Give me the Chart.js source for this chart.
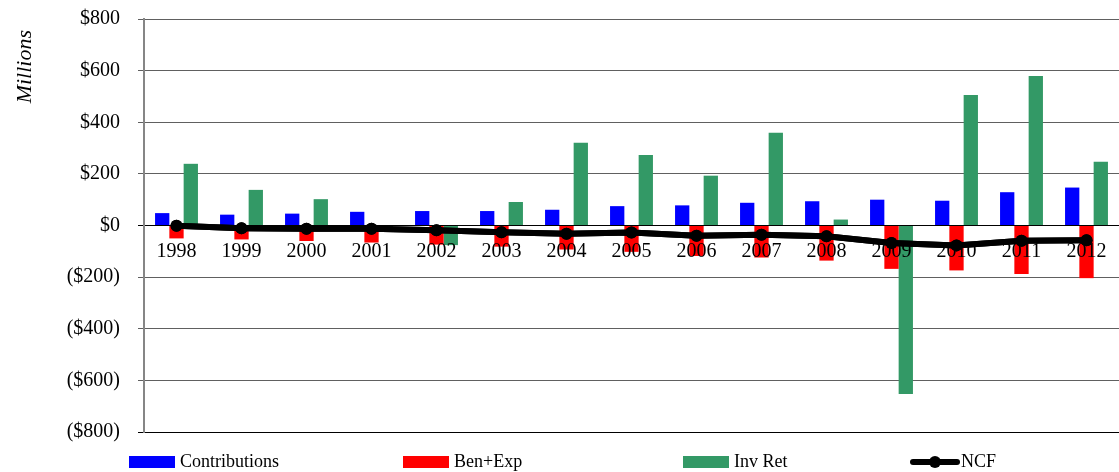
<!DOCTYPE html>
<html>
<head>
<meta charset="utf-8">
<script src="https://cdn.jsdelivr.net/npm/chart.js@4"></script>
<style>
  html, body { margin: 0; padding: 0; background: #ffffff; }
  #wrap { position: relative; width: 1119px; height: 472px; }
</style>
</head>
<body>
<div id="wrap"><canvas id="cash-flow-chart"></canvas></div>
<script>
// Chart data (in $ millions)
const years = ['1998', '1999', '2000', '2001', '2002', '2003', '2004', '2005',
               '2006', '2007', '2008', '2009', '2010', '2011', '2012'];
const contributions = [48, 42, 46, 53, 56, 56, 61, 75, 78, 88, 94, 100, 96, 129, 147];
const benExp = [-50, -54, -60, -66, -74, -82, -93, -102, -118, -124, -136, -168, -174, -188, -204];
const invRet = [239, 138, 102, -15, -76, 91, 321, 273, 193, 359, 23, -653, 506, 579, 247];
const ncf = [-1, -11, -13, -13, -18, -26, -32, -27, -40, -36, -42, -68, -77, -59, -57];
const yTicks = [-800, -600, -400, -200, 0, 200, 400, 600, 800];

const serif = "'Liberation Serif', 'DejaVu Serif', serif";

// Excel-style legend spread across the bottom
const legendPlugin = {
    id: 'bottomLegend',
    afterDraw(chart) {
        // NCF line goes over the year labels, like the original
        chart.data.datasets.forEach((ds, i) => {
            if (ds.type === 'line') chart.getDatasetMeta(i).controller.draw();
        });

        const ctx = chart.ctx;
        const slots = [129, 403, 683, 910];
        const y = 462;
        ctx.save();
        ctx.font = '18px ' + serif;
        ctx.textBaseline = 'middle';
        chart.data.datasets.forEach((ds, i) => {
            const x = slots[i];
            if (ds.type === 'line') {
                ctx.strokeStyle = ds.borderColor;
                ctx.lineWidth = 6;
                ctx.lineCap = 'round';
                ctx.beginPath();
                ctx.moveTo(x + 3, y);
                ctx.lineTo(x + 47, y);
                ctx.stroke();
                ctx.beginPath();
                ctx.arc(x + 25, y, 6, 0, Math.PI * 2);
                ctx.fillStyle = ds.pointBackgroundColor;
                ctx.fill();
            } else {
                ctx.fillStyle = ds.backgroundColor;
                ctx.fillRect(x, y - 6, 46, 12);
            }
            ctx.fillStyle = '#000000';
            ctx.fillText(ds.label, x + 51, y);
        });
        ctx.restore();
    }
};

const ctx = document.getElementById('cash-flow-chart').getContext('2d');
new Chart(ctx, {
    type: 'bar',
    data: {
        labels: years,
        datasets: [
            {
                label: 'Contributions',
                data: contributions,
                backgroundColor: '#0000ff',
                order: 1,
            },
            {
                label: 'Ben+Exp',
                data: benExp,
                backgroundColor: '#ff0000',
                order: 1,
            },
            {
                label: 'Inv Ret',
                data: invRet,
                backgroundColor: '#339966',
                order: 1,
            },
            {
                type: 'line',
                label: 'NCF',
                data: ncf,
                borderColor: '#000000',
                borderWidth: 6,
                pointRadius: 6,
                pointBackgroundColor: '#000000',
                pointBorderWidth: 0,
                tension: 0,
                order: 0,
            },
        ],
    },
    options: {
        responsive: true,
        maintainAspectRatio: false,
        animation: false,
        layout: {
            autoPadding: false,
            padding: { top: 0, bottom: 40, left: 0, right: 0 },
        },
        datasets: {
            bar: {
                categoryPercentage: 0.66,
                barPercentage: 1.0,
            },
        },
        plugins: {
            legend: { display: false },
            tooltip: { enabled: false },
        },
        scales: {
            x: {
                position: { y: 0 },
                afterFit: (scale) => { scale.paddingLeft = 0; scale.paddingRight = 0; },
                grid: { display: false, drawTicks: true, tickLength: 14 },
                border: { display: false },
                ticks: {
                    z: 1,
                    color: '#000000',
                    padding: 0,
                    maxRotation: 0,
                    font: { family: serif, size: 20 },
                },
            },
            y: {
                min: -800,
                max: 800,
                afterFit: (scale) => {
                    scale.width = 144;
                    scale.paddingTop = 19;
                    scale.paddingBottom = 12;
                },
                afterBuildTicks: (scale) => {
                    scale.ticks = yTicks.map(v => ({ value: v }));
                },
                grid: {
                    color: (c) => (c.tick && (c.tick.value === 0 || c.tick.value === -800)) ? '#000000' : '#606060',
                    lineWidth: 1,
                    tickLength: 6,
                },
                border: { color: '#868686', width: 2 },
                ticks: {
                    color: '#000000',
                    padding: 18,
                    font: { family: serif, size: 20 },
                    callback: (v) => v < 0 ? '($' + Math.abs(v) + ')' : '$' + v,
                },
                title: {
                    display: true,
                    text: 'Millions  ',
                    align: 'end',
                    color: '#000000',
                    padding: { top: 12, bottom: 0 },
                    font: { family: serif, size: 22, style: 'italic' },
                },
            },
        },
    },
    plugins: [legendPlugin],
});
</script>
</body>
</html>
